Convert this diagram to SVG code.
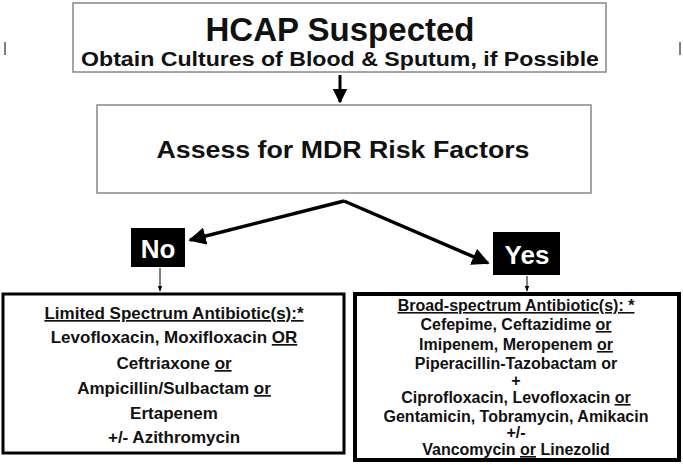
<svg xmlns="http://www.w3.org/2000/svg" width="683" height="465" viewBox="0 0 683 465">
<defs>
<style>
text{font-family:"Liberation Sans",Arial,sans-serif;font-weight:bold;fill:#111;text-anchor:middle}
.b{font-size:17px}
.r{font-size:16px}
.u{text-decoration:underline}
</style>
<marker id="ah" viewBox="0 0 10 10" refX="9" refY="5" markerWidth="5" markerHeight="5" orient="auto"><path d="M0,0 L10,5 L0,10 z" fill="#000"/></marker>
<marker id="sh" viewBox="0 0 10 10" refX="9" refY="5" markerWidth="6" markerHeight="6" markerUnits="userSpaceOnUse" orient="auto"><path d="M0,1 L10,5 L0,9 z" fill="#000"/></marker>
</defs>
<rect width="683" height="465" fill="#fff"/>
<line x1="5" y1="42" x2="5" y2="55" stroke="#555" stroke-width="1.5"/>
<line x1="680" y1="42" x2="680" y2="55" stroke="#555" stroke-width="1.5"/>
<g id="hcap"><rect x="73" y="3" width="533" height="69" fill="#fff" stroke="#888" stroke-width="1.5"/>
<text x="340" y="41" font-size="33">HCAP Suspected</text>
<text x="340" y="66" font-size="21" textLength="518" lengthAdjust="spacingAndGlyphs">Obtain Cultures of Blood &amp; Sputum, if  Possible</text></g>
<g id="assess"><rect x="97" y="105" width="494" height="88" fill="#fff" stroke="#888" stroke-width="1.5"/>
<text x="343" y="158" font-size="23" textLength="373" lengthAdjust="spacingAndGlyphs">Assess for MDR Risk Factors</text></g>
<g id="no"><rect x="131" y="228" width="54" height="39" fill="#000"/>
<text x="158" y="258" font-size="26" style="fill:#fff">No</text></g>
<g id="yes"><rect x="493" y="232" width="67" height="43" fill="#000"/>
<text x="527" y="264" font-size="26" style="fill:#fff">Yes</text></g>
<g id="connectors" stroke="#000" fill="none">
<line x1="340" y1="75" x2="340" y2="102" stroke-width="3" marker-end="url(#ah)"/>
<line x1="344" y1="201" x2="190" y2="240" stroke-width="3.5" marker-end="url(#ah)"/>
<line x1="344" y1="201" x2="488" y2="263" stroke-width="3.5" marker-end="url(#ah)"/>
<line x1="160" y1="268" x2="160" y2="291" stroke-width="1" marker-end="url(#sh)"/>
<line x1="527" y1="276" x2="527" y2="291" stroke-width="1" marker-end="url(#sh)"/>
</g>
<g id="limited"><rect x="3" y="294" width="341" height="159" fill="#fff" stroke="#000" stroke-width="3"/>
<text class="b" x="174" y="319"><tspan class="u">Limited Spectrum Antibiotic(s):*</tspan></text>
<text class="b" x="174" y="343">Levofloxacin, Moxifloxacin <tspan class="u">OR</tspan></text>
<text class="b" x="174" y="369">Ceftriaxone <tspan class="u">or</tspan></text>
<text class="b" x="174" y="394">Ampicillin/Sulbactam <tspan class="u">or</tspan></text>
<text class="b" x="174" y="419">Ertapenem</text>
<text class="b" x="174" y="443">+/- Azithromycin</text></g>
<g id="broad"><rect x="355" y="294" width="324" height="166" fill="#fff" stroke="#000" stroke-width="4"/>
<text class="r" x="516" y="311"><tspan class="u">Broad-spectrum Antibiotic(s): *</tspan></text>
<text class="r" x="516" y="330">Cefepime, Ceftazidime <tspan class="u">or</tspan></text>
<text class="r" x="516" y="350">Imipenem, Meropenem <tspan class="u">or</tspan></text>
<text class="r" x="516" y="369">Piperacillin-Tazobactam or</text>
<text class="r" x="516" y="386">+</text>
<text class="r" x="516" y="403">Ciprofloxacin, Levofloxacin <tspan class="u">or</tspan></text>
<text class="r" x="516" y="422">Gentamicin, Tobramycin, Amikacin</text>
<text class="r" x="516" y="438">+/-</text>
<text class="r" x="516" y="455">Vancomycin <tspan class="u">or</tspan> Linezolid</text></g>
</svg>
